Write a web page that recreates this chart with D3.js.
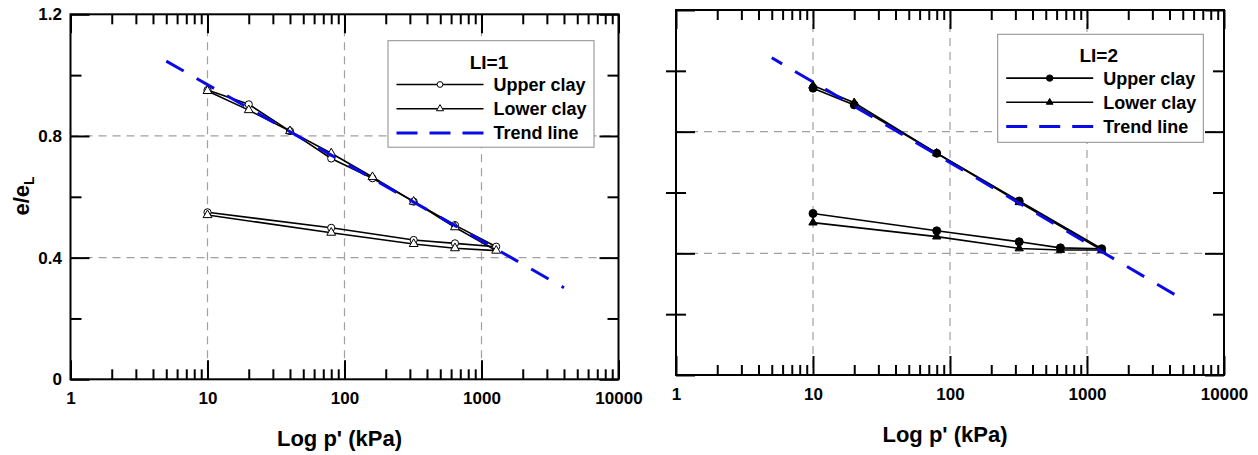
<!DOCTYPE html>
<html>
<head>
<meta charset="utf-8">
<title>e/eL vs log p'</title>
<script src="https://cdn.jsdelivr.net/npm/d3@7"></script>
<style>
  body { margin: 0; background: #fff; }
  svg text { font-family: "Liberation Sans", Arial, Helvetica, sans-serif; font-weight: bold; fill: #000; }
</style>
</head>
<body>
<svg id="chart" width="1258" height="455"></svg>
<script>
// pressures (kPa) along each test path: loading, then unloading
const pressLI1 = [10, 20, 40, 80, 160, 320, 640, 1280, 640, 320, 80, 10];
const upperLI1 = [0.951, 0.904, 0.816, 0.726, 0.661, 0.584, 0.507, 0.436, 0.447, 0.458, 0.498, 0.549];
const lowerLI1 = [0.948, 0.885, 0.816, 0.743, 0.665, 0.584, 0.500, 0.423, 0.431, 0.445, 0.482, 0.540];

const pressLI2 = [10, 20, 80, 320, 1280, 640, 320, 80, 10];
const upperLI2 = [0.943, 0.888, 0.729, 0.572, 0.415, 0.418, 0.438, 0.474, 0.531];
const lowerLI2 = [0.952, 0.895, 0.729, 0.568, 0.411, 0.411, 0.416, 0.455, 0.501];

// trend lines (end points)
const trendPressLI1 = [5, 4000];
const trendLI1 = [1.046, 0.301];
const trendPressLI2 = [5, 5000];
const trendLI2 = [1.043, 0.249];

const xMajorTicks = [1, 10, 100, 1000, 10000];
const xGrid = [10, 100, 1000];
const yMajorTicks = [0, 0.4, 0.8, 1.2];
const yMinorTicks = [0.2, 0.6, 1.0];
const yGrid = [0.4, 0.8];
const legendLabels = ["Upper clay", "Lower clay", "Trend line"];

// minor ticks 2..9 of each decade
const xMinorTicks = [];
for (let d = 1; d < 10000; d *= 10) for (let k = 2; k <= 9; k++) xMinorTicks.push(d * k);

const blue = "#0a0ae6";
const gridColor = "#a0a0a0";

const panels = [
  { title: "LI=1", filled: false, press: pressLI1, upper: upperLI1, lower: lowerLI1,
    trendP: trendPressLI1, trend: trendLI1, dashOffset: 0,
    left: 70.5, right: 618.5, top: 14.3, bottom: 379.3, yLabels: true, crossMinor: false,
    legend: { x: 388, y: 40.7, w: 206, h: 106.5 } },
  { title: "LI=2", filled: true, press: pressLI2, upper: upperLI2, lower: lowerLI2,
    trendP: trendPressLI2, trend: trendLI2, dashOffset: 8,
    left: 676, right: 1224, top: 10, bottom: 375, yLabels: false, crossMinor: true,
    legend: { x: 997.7, y: 34.3, w: 205.6, h: 108 } }
];

const svg = d3.select("#chart");

panels.forEach(drawPanel);

function drawPanel(p) {
  const x = d3.scaleLog().domain([1, 10000]).range([p.left, p.right]);
  const y = d3.scaleLinear().domain([0, 1.2]).range([p.bottom, p.top]);
  const g = svg.append("g");

  // dashed grid
  g.selectAll(".vgrid").data(xGrid).join("line")
    .attr("x1", d => x(d)).attr("x2", d => x(d))
    .attr("y1", p.top).attr("y2", p.bottom)
    .attr("stroke", gridColor).attr("stroke-width", 1.2).attr("stroke-dasharray", "8,6");
  g.selectAll(".hgrid").data(yGrid).join("line")
    .attr("x1", p.left).attr("x2", p.right)
    .attr("y1", d => y(d)).attr("y2", d => y(d))
    .attr("stroke", gridColor).attr("stroke-width", 1.2).attr("stroke-dasharray", "8,6");

  // axes (ticks pointing inward)
  const tickStyle = sel => {
    sel.select(".domain").remove();
    sel.selectAll(".tick line").attr("stroke", "#000").attr("stroke-width", 2);
    sel.selectAll("text").attr("font-size", 17).attr("fill", "#000");
  };
  g.append("g").attr("transform", `translate(0,${p.bottom})`)
    .call(d3.axisBottom(x).tickValues(xMajorTicks).tickSize(-19).tickPadding(13).tickFormat(d3.format("d")))
    .call(tickStyle);
  g.append("g").attr("transform", `translate(0,${p.bottom})`)
    .call(d3.axisBottom(x).tickValues(xMinorTicks).tickSize(-10).tickFormat(""))
    .call(tickStyle);
  g.append("g").attr("transform", `translate(0,${p.top})`)
    .call(d3.axisTop(x).tickValues(xMajorTicks).tickSize(-19).tickFormat(""))
    .call(tickStyle);
  g.append("g").attr("transform", `translate(0,${p.top})`)
    .call(d3.axisTop(x).tickValues(xMinorTicks).tickSize(-10).tickFormat(""))
    .call(tickStyle);

  g.append("g").attr("transform", `translate(${p.left},0)`)
    .call(d3.axisLeft(y).tickValues(yMajorTicks).tickSize(-19).tickPadding(8.5)
      .tickFormat(p.yLabels ? (d => d === 0 ? "0" : d3.format(".1f")(d)) : ""))
    .call(tickStyle);
  if (p.crossMinor) {
    g.append("g").attr("transform", `translate(${p.left + 10},0)`)
      .call(d3.axisLeft(y).tickValues(yMinorTicks).tickSize(20).tickFormat(""))
      .call(tickStyle);
  } else {
    g.append("g").attr("transform", `translate(${p.left},0)`)
      .call(d3.axisLeft(y).tickValues(yMinorTicks).tickSize(-11).tickFormat(""))
      .call(tickStyle);
  }
  g.append("g").attr("transform", `translate(${p.right},0)`)
    .call(d3.axisRight(y).tickValues(yMajorTicks).tickSize(-19).tickFormat(""))
    .call(tickStyle);
  g.append("g").attr("transform", `translate(${p.right},0)`)
    .call(d3.axisRight(y).tickValues(yMinorTicks).tickSize(-11).tickFormat(""))
    .call(tickStyle);

  // frame
  g.append("rect")
    .attr("x", p.left).attr("y", p.top)
    .attr("width", p.right - p.left).attr("height", p.bottom - p.top)
    .attr("fill", "none").attr("stroke", "#000").attr("stroke-width", 2);

  // data series
  const line = d3.line().x(d => x(d[0])).y(d => y(d[1]));
  const series = [
    { vals: p.upper, shape: "circle" },
    { vals: p.lower, shape: "triangle" }
  ];
  series.forEach(s => {
    const pts = p.press.map((pr, i) => [pr, s.vals[i]]);
    g.append("path").datum(pts).attr("d", line)
      .attr("fill", "none").attr("stroke", "#000").attr("stroke-width", 1.6);
    drawMarkers(g, pts.map(d => [x(d[0]), y(d[1])]), s.shape, p.filled);
  });

  // trend line
  const trendPts = p.trendP.map((pr, i) => [pr, p.trend[i]]);
  g.append("path").datum(trendPts).attr("d", line)
    .attr("fill", "none").attr("stroke", blue).attr("stroke-width", 3)
    .attr("stroke-dasharray", "20,15").attr("stroke-dashoffset", p.dashOffset);

  // axis titles
  g.append("text")
    .attr("x", (p.left + p.right) / 2 - 5).attr("y", p.bottom + 67)
    .attr("text-anchor", "middle").attr("font-size", 22)
    .text("Log p' (kPa)");
  if (p.yLabels) {
    const yt = g.append("text")
      .attr("transform", "translate(29,196) rotate(-90)")
      .attr("text-anchor", "middle").attr("font-size", 22);
    yt.append("tspan").text("e/e");
    yt.append("tspan").attr("font-size", 14).attr("dy", 5).text("L");
  }

  // legend
  const L = p.legend;
  const lg = g.append("g").attr("transform", `translate(${L.x},${L.y})`);
  lg.append("rect").attr("width", L.w).attr("height", L.h)
    .attr("fill", "#fff").attr("stroke", "#8c8c8c").attr("stroke-width", 1);
  lg.append("text").attr("x", 101).attr("y", 28).attr("text-anchor", "middle")
    .attr("font-size", 19).text(p.title);
  const rowY = [43.8, 68, 92.2];
  legendLabels.forEach((lab, i) => {
    const ly = rowY[i];
    const ln = lg.append("line").attr("x1", 8.5).attr("x2", 95.5).attr("y1", ly).attr("y2", ly);
    if (i < 2) {
      ln.attr("stroke", "#000").attr("stroke-width", 1.6);
      drawMarkers(lg, [[52, ly]], i === 0 ? "circle" : "triangle", p.filled, 0.8);
    } else {
      ln.attr("stroke", blue).attr("stroke-width", 3).attr("stroke-dasharray", "21,12");
    }
    lg.append("text").attr("x", 105.5).attr("y", ly + 6.5).attr("font-size", 18).text(lab);
  });
}

function drawMarkers(g, pts, shape, filled, scale = 1) {
  const fill = filled ? "#000" : "#fff";
  if (shape === "circle") {
    g.selectAll(null).data(pts).join("circle")
      .attr("cx", d => d[0]).attr("cy", d => d[1])
      .attr("r", (filled ? 4 : 3.6) * scale)
      .attr("fill", fill).attr("stroke", "#000").attr("stroke-width", 1);
  } else {
    const sym = d3.symbol(d3.symbolTriangle).size((filled ? 30 : 34) * scale * scale);
    g.selectAll(null).data(pts).join("path")
      .attr("transform", d => `translate(${d[0]},${d[1]})`)
      .attr("d", sym)
      .attr("fill", fill).attr("stroke", "#000").attr("stroke-width", 1);
  }
}
</script>
</body>
</html>
